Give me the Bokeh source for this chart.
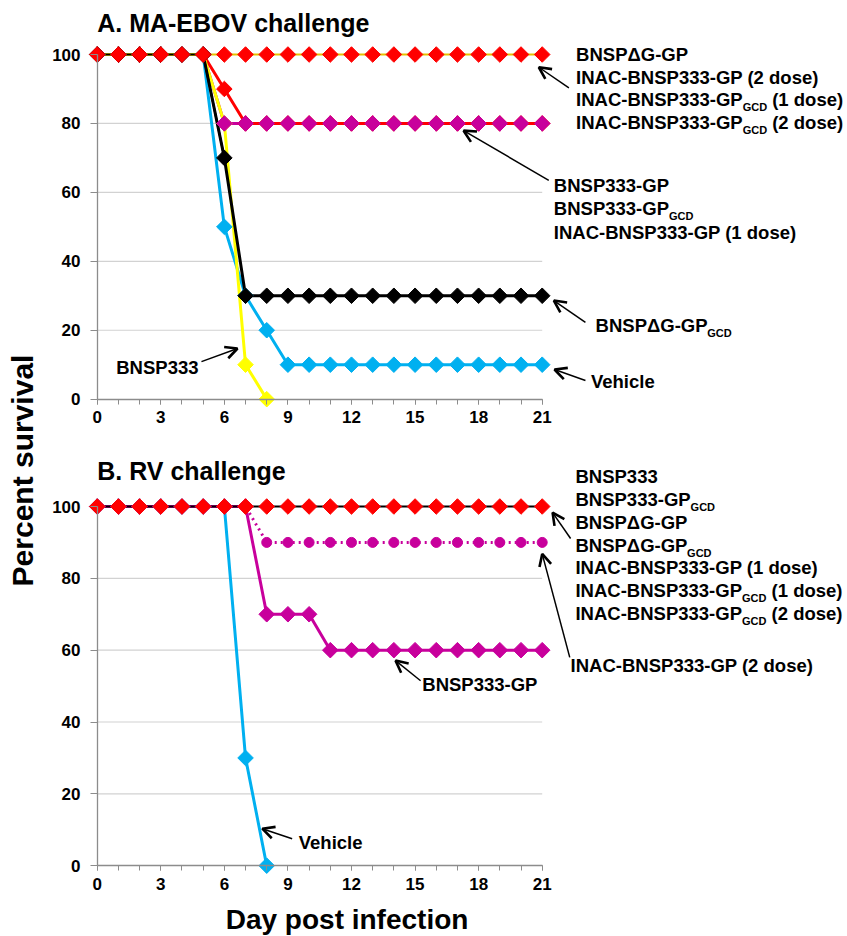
import numpy as np
from bokeh.plotting import figure
from bokeh.models import Label, Arrow, OpenHead, FixedTicker, Range1d, LinearAxis
from bokeh.layouts import row, column
from bokeh.embed import file_html
from bokeh.resources import INLINE

# ---------------- data ----------------
days = [0, 1, 2, 3, 4, 5, 6, 7, 8, 9, 10, 11, 12, 13, 14, 15, 16, 17, 18, 19, 20, 21]
x_ticks = [0, 3, 6, 9, 12, 15, 18, 21]
y_ticks = [0, 20, 40, 60, 80, 100]
grid_levels = [20, 40, 60, 80]

# Panel A: MA-EBOV challenge
a_full = [100, 100, 100, 100, 100, 100, 100, 100, 100, 100, 100, 100, 100, 100, 100, 100, 100, 100, 100, 100, 100, 100]
a_red = [100, 100, 100, 100, 100, 100, 90, 80, 80, 80, 80, 80, 80, 80, 80, 80, 80, 80, 80, 80, 80, 80]
a_magenta = [100, 100, 100, 100, 100, 100, 80, 80, 80, 80, 80, 80, 80, 80, 80, 80, 80, 80, 80, 80, 80, 80]
a_black = [100, 100, 100, 100, 100, 100, 70, 30, 30, 30, 30, 30, 30, 30, 30, 30, 30, 30, 30, 30, 30, 30]
a_cyan = [100, 100, 100, 100, 100, 100, 50, 30, 20, 10, 10, 10, 10, 10, 10, 10, 10, 10, 10, 10, 10, 10]
a_yellow_days = [0, 1, 2, 3, 4, 5, 6, 7, 8]
a_yellow = [100, 100, 100, 100, 100, 100, 80, 10, 0]

# Panel B: RV challenge
b_full = [100, 100, 100, 100, 100, 100, 100, 100, 100, 100, 100, 100, 100, 100, 100, 100, 100, 100, 100, 100, 100, 100]
b_dotted = [100, 100, 100, 100, 100, 100, 100, 100, 90, 90, 90, 90, 90, 90, 90, 90, 90, 90, 90, 90, 90, 90]
b_magenta = [100, 100, 100, 100, 100, 100, 100, 100, 70, 70, 70, 60, 60, 60, 60, 60, 60, 60, 60, 60, 60, 60]
b_cyan_days = [0, 1, 2, 3, 4, 5, 6, 7, 8]
b_cyan = [100, 100, 100, 100, 100, 100, 100, 30, 0]

RED = "#ff0000"
MAG = "#c8009c"
CYAN = "#00b0f0"
YEL = "#ffff00"
GOLD = "#e6c200"
AXC = "#8c8c8c"
FONT = "Liberation Sans"
ANN = 18.5   # annotation font size (px)
SUB = 11     # subscript font size (px)

# Arial-bold advance widths (per 1000 em) for placing subscripts
W = {" ": 278, "(": 333, ")": 333, "-": 333, "A": 722, "B": 722, "C": 722, "D": 722,
     "E": 667, "G": 778, "I": 278, "N": 722, "O": 778, "P": 667, "S": 667, "V": 667,
     "d": 611, "e": 556, "o": 611, "s": 556, "\u0394": 700}


def tw(s, size):
    return sum(W.get(c, 556) for c in s) * size / 1000.0


STRIP_W = 42
FIG_W = 847 - STRIP_W
PPD = 21.19
X_END = -0.6 + (847 - 84) / PPD


def make_fig(height, y0, y1, bottom, xstandoff):
    p = figure(width=FIG_W, height=height, x_range=Range1d(-0.6, X_END), y_range=Range1d(y0, y1),
               output_backend="svg", toolbar_location=None,
               min_border_left=84 - STRIP_W, min_border_right=0, min_border_top=0, min_border_bottom=bottom)
    p.outline_line_color = None
    p.grid.visible = False
    # label-carrying axes at the frame edges (no line, no ticks)
    p.xaxis.ticker = FixedTicker(ticks=x_ticks, minor_ticks=[])
    p.yaxis.ticker = FixedTicker(ticks=y_ticks, minor_ticks=[])
    for ax in (p.xaxis[0], p.yaxis[0]):
        ax.axis_line_color = None
        ax.major_tick_line_color = None
        ax.minor_tick_line_color = None
        ax.major_tick_out = 0
        ax.major_tick_in = 0
        ax.minor_tick_out = 0
        ax.minor_tick_in = 0
        ax.major_label_text_font = FONT
        ax.major_label_text_font_style = "bold"
        ax.major_label_text_font_size = "17px"
        ax.major_label_text_color = "black"
    p.xaxis.major_label_standoff = xstandoff
    p.yaxis.major_label_standoff = 4
    # axis lines and ticks drawn at x = 0 / y = 0
    ax_x = LinearAxis(fixed_location=0, bounds=(0, 21),
                      ticker=FixedTicker(ticks=x_ticks, minor_ticks=days))
    ax_y = LinearAxis(fixed_location=0, bounds=(0, 100),
                      ticker=FixedTicker(ticks=y_ticks, minor_ticks=[]))
    for ax in (ax_x, ax_y):
        ax.axis_line_color = AXC
        ax.axis_line_width = 1.3
        ax.major_tick_line_color = AXC
        ax.minor_tick_line_color = AXC
        ax.major_tick_in = 0
        ax.minor_tick_in = 0
        ax.major_label_text_font_size = "0px"
        ax.major_label_standoff = 0
    ax_x.major_label_overrides = {t: "" for t in x_ticks}
    ax_y.major_label_overrides = {t: "" for t in y_ticks}
    ax_x.major_tick_out = 5
    ax_x.minor_tick_out = 5
    ax_y.major_tick_out = 7
    ax_y.minor_tick_out = 0
    p.add_layout(ax_x, "below")
    p.add_layout(ax_y, "left")
    # horizontal gridlines between x = 0 and x = 21
    p.segment(x0=[0] * len(grid_levels), x1=[21] * len(grid_levels), y0=grid_levels, y1=grid_levels,
              line_color="#d2d2d2", line_width=1.2)
    return p


def text(p, x, y, s, size=ANN, align="left"):
    p.add_layout(Label(x=x, y=y, text=s, text_font=FONT, text_font_style="bold",
                       text_font_size=f"{size}px", text_align=align, text_baseline="middle",
                       text_color="black"))


def rich(p, x, y, parts, ppu, size=ANN, sub=SUB):
    off = 0.0
    for s, is_sub in parts:
        fs = sub if is_sub else size
        lead = len(s) - len(s.lstrip(" "))
        off += tw(" " * lead, fs)
        s2 = s.lstrip(" ")
        yy = y - 7.5 / ppu if is_sub else y
        p.add_layout(Label(x=x, y=yy, x_offset=off, text=s2, text_font=FONT,
                           text_font_style="bold", text_font_size=f"{fs}px",
                           text_baseline="middle", text_color="black"))
        off += tw(s2, fs)


def arrow(p, xs, ys, xe, ye):
    p.add_layout(Arrow(end=OpenHead(size=12, line_width=2.6, line_color="black"),
                       x_start=xs, y_start=ys, x_end=xe, y_end=ye,
                       line_width=1.5, line_color="black"))


def marks(p, x, y, color, size=11):
    p.scatter(x, y, marker="square", angle=np.pi / 4, size=size, fill_color=color, line_color=color)


# ---------------- Panel A ----------------
ppu_a = 3.4466
pa = make_fig(437, -3, -3 + 409 / ppu_a, 28, 1)

pa.line(days, a_magenta, line_color=MAG, line_width=3)
pa.line(days, a_red, line_color=RED, line_width=3)
pa.line(days, a_cyan, line_color=CYAN, line_width=3)
pa.line(a_yellow_days, a_yellow, line_color=YEL, line_width=3)
pa.line(days, a_full, line_color=GOLD, line_width=2)
pa.line(days[:7], a_black[:7], line_color="black", line_width=2)
pa.line(days[5:], a_black[5:], line_color="black", line_width=3)

marks(pa, days, a_cyan, CYAN)
marks(pa, a_yellow_days, a_yellow, YEL)
marks(pa, days, a_red, RED)
marks(pa, days, a_magenta, MAG)
marks(pa, days, a_black, "black")
marks(pa, days, a_full, RED)

text(pa, 0, 109.0, "A.  MA-EBOV challenge", size=25)

xa = 22.6
rich(pa, xa, 100.0, [("BNSP\u0394G-GP", False)], ppu_a)
rich(pa, xa, 93.47, [("INAC-BNSP333-GP (2 dose)", False)], ppu_a)
rich(pa, xa, 86.94, [("INAC-BNSP333-GP", False), ("GCD", True), (" (1 dose)", False)], ppu_a)
rich(pa, xa, 80.41, [("INAC-BNSP333-GP", False), ("GCD", True), (" (2 dose)", False)], ppu_a)
arrow(pa, 22.26, 90.3, 20.84, 96.3)

xb = 21.55
rich(pa, xb, 62.0, [("BNSP333-GP", False)], ppu_a)
rich(pa, xb, 55.2, [("BNSP333-GP", False), ("GCD", True)], ppu_a)
rich(pa, xb, 48.4, [("INAC-BNSP333-GP (1 dose)", False)], ppu_a)
arrow(pa, 21.31, 63.5, 17.29, 77.9)

rich(pa, 23.52, 21.3, [("BNSP\u0394G-GP", False), ("GCD", True)], ppu_a)
arrow(pa, 23.04, 22.3, 21.55, 28.6)

text(pa, 23.3, 5.1, "Vehicle")
arrow(pa, 23.04, 5.4, 21.58, 8.6)

text(pa, 4.78, 9.3, "BNSP333", align="right")
arrow(pa, 4.92, 10.9, 6.62, 14.7)

# ---------------- Panel B ----------------
ppu_b = 3.592
pb = make_fig(465, -(874 - 865.2) / ppu_b, (865.2 - 437) / ppu_b, 28, 3)

pb.line(b_cyan_days, b_cyan, line_color=CYAN, line_width=3)
pb.line(days, b_magenta, line_color=MAG, line_width=3)
pb.line(days, b_dotted, line_color=MAG, line_width=3, line_dash="2 4")
pb.line(days, b_full, line_color="black", line_width=2)

marks(pb, b_cyan_days, b_cyan, CYAN)
marks(pb, days, b_magenta, MAG)
pb.scatter(days, b_dotted, marker="circle", size=10, fill_color=MAG, line_color=MAG)
marks(pb, days, b_full, RED)

text(pb, 0, 110.0, "B.  RV challenge", size=25)

xc = 22.57
rich(pb, xc, 108.35, [("BNSP333", False)], ppu_b)
rich(pb, xc, 101.95, [("BNSP333-GP", False), ("GCD", True)], ppu_b)
rich(pb, xc, 95.55, [("BNSP\u0394G-GP", False)], ppu_b)
rich(pb, xc, 89.14, [("BNSP\u0394G-GP", False), ("GCD", True)], ppu_b)
rich(pb, xc, 82.88, [("INAC-BNSP333-GP (1 dose)", False)], ppu_b)
rich(pb, xc, 76.61, [("INAC-BNSP333-GP", False), ("GCD", True), (" (1 dose)", False)], ppu_b)
rich(pb, xc, 70.21, [("INAC-BNSP333-GP", False), ("GCD", True), (" (2 dose)", False)], ppu_b)
arrow(pb, 22.34, 91.1, 21.49, 98.3)

rich(pb, 22.34, 55.7, [("INAC-BNSP333-GP (2 dose)", False)], ppu_b)
arrow(pb, 22.30, 58.0, 21.0, 86.8)

text(pb, 15.34, 50.4, "BNSP333-GP")
arrow(pb, 15.26, 51.5, 14.08, 57.1)

text(pb, 9.51, 6.5, "Vehicle")
arrow(pb, 9.20, 7.5, 7.79, 10.3)

# ---------------- x-axis title strip ----------------
PX_H = 936 - 437 - 465
px = figure(width=FIG_W, height=PX_H, x_range=Range1d(0, FIG_W), y_range=Range1d(0, PX_H),
            output_backend="svg", toolbar_location=None, min_border=0,
            x_axis_location=None, y_axis_location=None)
px.grid.visible = False
px.outline_line_color = None
px.add_layout(Label(x=319 - STRIP_W, y=17, text="Day post infection", text_font=FONT,
                    text_font_style="bold", text_font_size="28px", text_align="center",
                    text_baseline="middle", text_color="black"))

# ---------------- y-axis title strip ----------------
pl = figure(width=STRIP_W, height=936, x_range=Range1d(0, STRIP_W), y_range=Range1d(0, 936),
            output_backend="svg", toolbar_location=None, min_border=0,
            x_axis_location=None, y_axis_location=None)
pl.grid.visible = False
pl.outline_line_color = None
pl.add_layout(Label(x=22, y=936 - 470, text="Percent survival", angle=np.pi / 2, text_font=FONT,
                    text_font_style="bold", text_font_size="30px", text_align="center",
                    text_baseline="middle", text_color="black"))

layout = row(pl, column(pa, pb, px))
open("out.html", "w").write(file_html(layout, INLINE))
